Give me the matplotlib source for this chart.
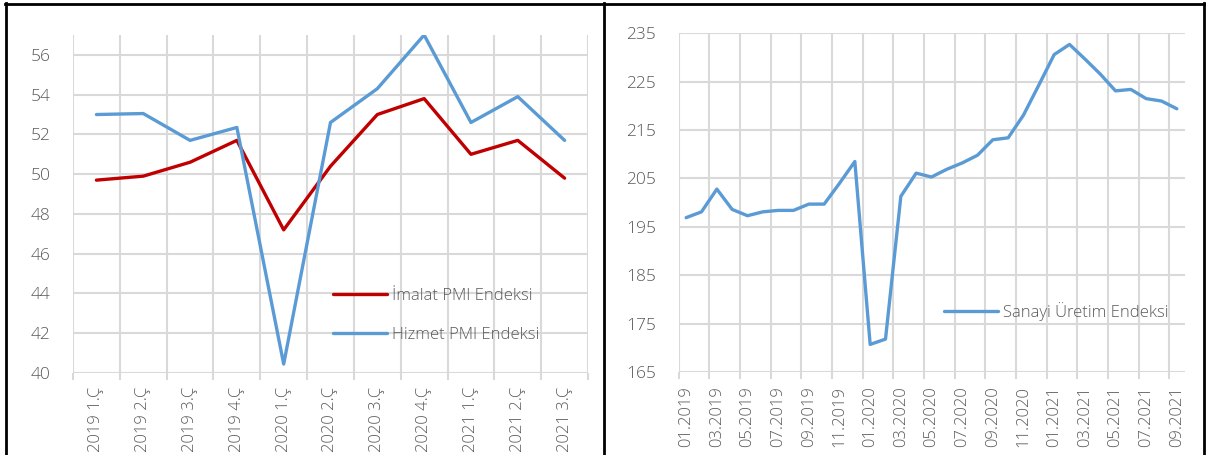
import matplotlib.pyplot as plt
from matplotlib.lines import Line2D

# quarterly PMI data
quarters = ['2019 1.Ç', '2019 2.Ç', '2019 3.Ç', '2019 4.Ç', '2020 1.Ç', '2020 2.Ç',
            '2020 3.Ç', '2020 4.Ç', '2021 1.Ç', '2021 2.Ç', '2021 3.Ç']
imalat_pmi = [49.7, 49.9, 50.6, 51.7, 47.2, 50.4, 53.0, 53.8, 51.0, 51.7, 49.8]
hizmet_pmi = [53.0, 53.05, 51.7, 52.35, 40.45, 52.6, 54.3, 57.0, 52.6, 53.9, 51.7]

# monthly industrial production index
months = ['01.2019', '02.2019', '03.2019', '04.2019', '05.2019', '06.2019', '07.2019',
          '08.2019', '09.2019', '10.2019', '11.2019', '12.2019', '01.2020', '02.2020',
          '03.2020', '04.2020', '05.2020', '06.2020', '07.2020', '08.2020', '09.2020',
          '10.2020', '11.2020', '12.2020', '01.2021', '02.2021', '03.2021', '04.2021',
          '05.2021', '06.2021', '07.2021', '08.2021', '09.2021']
sanayi_uretim = [196.9, 198.1, 202.8, 198.6, 197.3, 198.1, 198.4, 198.4, 199.7, 199.7,
                 204.0, 208.5, 170.7, 171.8, 201.3, 206.1, 205.3, 206.9, 208.2, 209.8,
                 213.0, 213.4, 218.1, 224.3, 230.6, 232.7, 229.7, 226.6, 223.1, 223.4,
                 221.5, 221.0, 219.4]

RED = '#C00000'
BLUE = '#5B9BD5'
GRID = '#D9D9D9'
TEXT = '#595959'

plt.rcParams['font.family'] = ['Open Sans', 'DejaVu Sans']
plt.rcParams['font.size'] = 12

fig = plt.figure(figsize=(12.06, 4.55), dpi=100)
W, H = 1206, 455


def px_axes(x0, y0, x1, y1):
    return fig.add_axes([x0 / W, 1 - y1 / H, (x1 - x0) / W, (y1 - y0) / H])


def style_axes(ax):
    for s in ax.spines.values():
        s.set_visible(False)
    ax.grid(True, which='major', color=GRID, linewidth=1.5)
    ax.set_axisbelow(True)
    ax.tick_params(axis='x', which='major', length=5, width=1.5, color=GRID,
                   labelbottom=False)
    ax.tick_params(axis='x', which='minor', length=0, pad=10, labelsize=12,
                   labelcolor=TEXT, labelrotation=90)
    ax.tick_params(axis='y', length=0, pad=16, labelsize=12.5, labelcolor=TEXT)
    for lab in ax.get_yticklabels() + ax.get_xticklabels(minor=True):
        lab.set_fontweight('light')


# left chart: PMI
ax1 = px_axes(73, 35, 588, 373)
n = len(quarters)
xs = [i + 0.5 for i in range(n)]
ax1.plot(xs, imalat_pmi, color=RED, linewidth=2.4, label='İmalat PMI Endeksi',
         solid_capstyle='round', solid_joinstyle='round')
ax1.plot(xs, hizmet_pmi, color=BLUE, linewidth=2.4, label='Hizmet PMI Endeksi',
         solid_capstyle='round', solid_joinstyle='round')
ax1.set_xlim(0, n)
ax1.set_ylim(40, 57)
ax1.set_yticks(range(40, 57, 2))
ax1.set_xticks(range(n + 1))
ax1.set_xticks(xs, quarters, minor=True)
style_axes(ax1)
leg1 = ax1.legend(loc='center left', bbox_to_anchor=(0.489, 0.17), frameon=False,
                  borderpad=0, handlelength=3.2, handletextpad=0.3,
                  labelspacing=1.4, fontsize=12)
for t in leg1.get_texts():
    t.set_color(TEXT)
    t.set_fontweight('light')

# right chart: industrial production
ax2 = px_axes(678.5, 33.3, 1184.5, 372)
m = len(months)
xm = [i + 0.5 for i in range(m)]
ax2.plot(xm, sanayi_uretim, color=BLUE, linewidth=2.4, label='Sanayi Üretim Endeksi',
         solid_capstyle='round', solid_joinstyle='round')
ax2.set_xlim(0, m)
ax2.set_ylim(165, 235)
ax2.set_yticks(range(165, 236, 10))
ax2.set_xticks(range(0, m, 2))
ax2.set_xticks(xm[::2], months[::2], minor=True)
style_axes(ax2)
leg2 = ax2.legend(loc='center left', bbox_to_anchor=(0.509, 0.18), frameon=False,
                  borderpad=0, handlelength=3.2, handletextpad=0.3, fontsize=12)
for t in leg2.get_texts():
    t.set_color(TEXT)
    t.set_fontweight('light')

# black panel borders
for x in (6, 604, 1204):
    fig.add_artist(Line2D([x / W, x / W], [0, 1 - 3 / H], color='black', linewidth=2))
fig.add_artist(Line2D([5 / W, 1205 / W], [1 - 4 / H, 1 - 4 / H], color='black', linewidth=2))

fig.savefig('out.png', dpi=100)
